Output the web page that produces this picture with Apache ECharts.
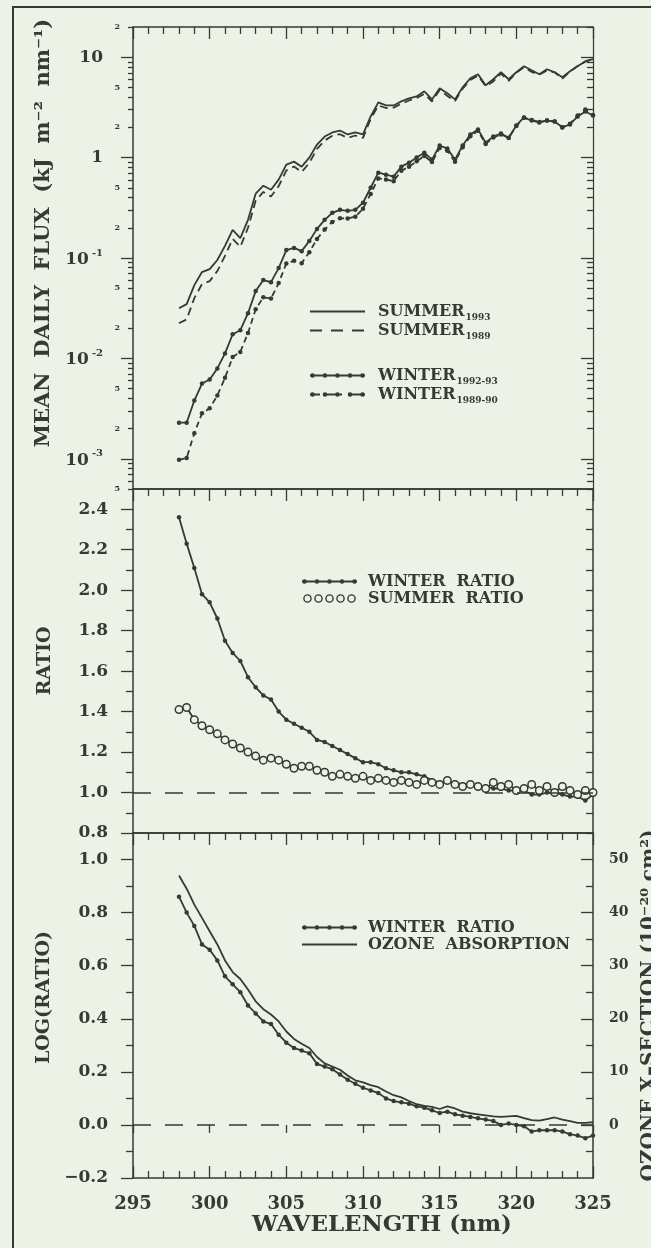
<!DOCTYPE html>
<html><head><meta charset="utf-8">
<script src="https://cdn.jsdelivr.net/npm/echarts@6/dist/echarts.min.js"></script>
<style>html,body{margin:0;padding:0;background:#edf2e6;}#c{width:651px;height:1248px;}</style>
</head><body><div id="c"></div>
<script>
// ---------------- data ----------------
const wavelength = [298, 298.5, 299, 299.5, 300, 300.5, 301, 301.5, 302, 302.5,
  303, 303.5, 304, 304.5, 305, 305.5, 306, 306.5, 307, 307.5,
  308, 308.5, 309, 309.5, 310, 310.5, 311, 311.5, 312, 312.5,
  313, 313.5, 314, 314.5, 315, 315.5, 316, 316.5, 317, 317.5,
  318, 318.5, 319, 319.5, 320, 320.5, 321, 321.5, 322, 322.5,
  323, 323.5, 324, 324.5, 325];

const summer1993 = [0.0316, 0.0347, 0.0537, 0.0724, 0.0776, 0.0955, 0.132, 0.191, 0.158, 0.240,
  0.437, 0.525, 0.479, 0.603, 0.851, 0.912, 0.813, 1.00, 1.35, 1.62,
  1.78, 1.86, 1.70, 1.78, 1.70, 2.57, 3.55, 3.31, 3.31, 3.63,
  3.89, 4.07, 4.57, 3.80, 4.90, 4.37, 3.80, 5.01, 6.17, 6.76,
  5.25, 6.03, 7.08, 6.03, 7.08, 8.13, 7.41, 6.76, 7.59, 7.08,
  6.31, 7.24, 8.13, 9.12, 9.55];

const summer1989 = [0.0224, 0.0245, 0.0398, 0.0550, 0.0589, 0.0741, 0.105, 0.155, 0.129, 0.200,
  0.372, 0.455, 0.409, 0.520, 0.746, 0.815, 0.719, 0.885, 1.22, 1.48,
  1.65, 1.71, 1.57, 1.66, 1.57, 2.43, 3.31, 3.12, 3.15, 3.43,
  3.71, 3.92, 4.31, 3.62, 4.71, 4.12, 3.66, 4.86, 5.93, 6.56,
  5.14, 5.74, 6.87, 5.80, 7.01, 7.96, 7.13, 6.70, 7.36, 7.08,
  6.12, 7.18, 8.20, 9.03, 9.55];

const winter1992_93 = [0.00229, 0.00229, 0.00380, 0.00562, 0.00617, 0.00794, 0.0112, 0.0174, 0.0191, 0.0282,
  0.0468, 0.0603, 0.0575, 0.0794, 0.120, 0.126, 0.117, 0.148, 0.195, 0.240,
  0.282, 0.302, 0.295, 0.302, 0.355, 0.501, 0.708, 0.676, 0.646, 0.813,
  0.891, 1.00, 1.12, 0.955, 1.32, 1.23, 0.955, 1.32, 1.70, 1.91,
  1.41, 1.62, 1.74, 1.58, 2.09, 2.51, 2.34, 2.24, 2.34, 2.29,
  2.00, 2.14, 2.57, 2.88, 2.63];

const winter1989_90 = [0.000977, 0.00102, 0.00180, 0.00284, 0.00318, 0.00427, 0.00641, 0.0103, 0.0116, 0.0179,
  0.0308, 0.0407, 0.0395, 0.0563, 0.0884, 0.0937, 0.0889, 0.114, 0.155, 0.192,
  0.229, 0.249, 0.248, 0.258, 0.309, 0.435, 0.621, 0.604, 0.583, 0.740,
  0.812, 0.918, 1.04, 0.902, 1.25, 1.17, 0.909, 1.27, 1.63, 1.85,
  1.37, 1.59, 1.70, 1.57, 2.07, 2.49, 2.37, 2.26, 2.34, 2.29,
  2.01, 2.18, 2.62, 3.01, 2.65];

const winterRatio = [2.36, 2.23, 2.11, 1.98, 1.94, 1.86, 1.75, 1.69, 1.65, 1.57,
  1.52, 1.48, 1.46, 1.40, 1.36, 1.34, 1.32, 1.30, 1.26, 1.25,
  1.23, 1.21, 1.19, 1.17, 1.15, 1.15, 1.14, 1.12, 1.11, 1.10,
  1.10, 1.09, 1.08, 1.06, 1.05, 1.05, 1.05, 1.04, 1.04, 1.03,
  1.03, 1.02, 1.02, 1.01, 1.01, 1.01, 0.99, 0.99, 1.00, 1.00,
  0.99, 0.98, 0.98, 0.96, 0.99];

const summerRatio = [1.41, 1.42, 1.36, 1.33, 1.31, 1.29, 1.26, 1.24, 1.22, 1.20,
  1.18, 1.16, 1.17, 1.16, 1.14, 1.12, 1.13, 1.13, 1.11, 1.10,
  1.08, 1.09, 1.08, 1.07, 1.08, 1.06, 1.07, 1.06, 1.05, 1.06,
  1.05, 1.04, 1.06, 1.05, 1.04, 1.06, 1.04, 1.03, 1.04, 1.03,
  1.02, 1.05, 1.03, 1.04, 1.01, 1.02, 1.04, 1.01, 1.03, 1.00,
  1.03, 1.01, 0.99, 1.01, 1.00];

const logWinterRatio = [0.86, 0.80, 0.75, 0.68, 0.66, 0.62, 0.56, 0.53, 0.50, 0.45,
  0.42, 0.39, 0.38, 0.34, 0.31, 0.29, 0.28, 0.27, 0.23, 0.22,
  0.21, 0.19, 0.17, 0.155, 0.14, 0.13, 0.12, 0.10, 0.09, 0.085,
  0.08, 0.07, 0.065, 0.055, 0.045, 0.05, 0.04, 0.035, 0.03, 0.025,
  0.02, 0.015, 0.0, 0.005, 0.0, -0.005, -0.025, -0.02, -0.02, -0.02,
  -0.025, -0.035, -0.04, -0.05, -0.04];

const ozoneXsection = [47.0, 44.5, 41.5, 39.0, 36.5, 34.0, 31.0, 28.8, 27.5, 25.5,
  23.3, 21.8, 20.8, 19.5, 17.6, 16.2, 15.3, 14.5, 12.8, 11.6,
  11.0, 10.4, 9.3, 8.4, 8.0, 7.5, 7.1, 6.3, 5.6, 5.2,
  4.5, 3.9, 3.6, 3.4, 3.0, 3.5, 3.1, 2.5, 2.2, 2.0,
  1.8, 1.6, 1.5, 1.6, 1.7, 1.3, 0.9, 0.8, 1.1, 1.4,
  1.0, 0.7, 0.4, 0.4, 0.5];

// tick values / labels
const wavelengthTicks = [295, 300, 305, 310, 315, 320, 325];
const fluxDecades = [0.001, 0.01, 0.1, 1, 10];
const fluxAxisMin = 0.0005, fluxAxisMax = 20;
const ratioTicks = [0.8, 1.0, 1.2, 1.4, 1.6, 1.8, 2.0, 2.2, 2.4];
const ratioMinorTicks = [0.9, 1.1, 1.3, 1.5, 1.7, 1.9, 2.1, 2.3];
const logRatioTicks = [-0.2, 0.0, 0.2, 0.4, 0.6, 0.8, 1.0];
const logRatioMinorTicks = [-0.1, 0.1, 0.3, 0.5, 0.7, 0.9];
const ozoneTicks = [0, 10, 20, 30, 40, 50];
const ozoneMinorTicks = [-5, 5, 15, 25, 35, 45];

// ---------------- chart ----------------
const INK = '#363934';
const BG = '#edf2e6';
const FONT = 'DejaVu Serif';
const L = 133, W = 460;

const lg = Math.log10;
const fluxMajor = fluxDecades.map(lg);
const fluxMinor = [];
const fluxMinorLabels = [];
[0.0001, 0.001, 0.01, 0.1, 1, 10].forEach(d => {
  for (let k = 2; k <= 9; k++) {
    const v = lg(k * d);
    if (v >= lg(fluxAxisMin) - 1e-9 && v <= lg(fluxAxisMax) + 1e-9) {
      fluxMinor.push(v);
      if (k === 2 || k === 5) fluxMinorLabels.push(v);
    }
  }
});

function fluxLabel(v) {
  const n = Math.round(v);
  if (Math.abs(v - n) < 1e-6) {
    if (n === 1) return '{maj|10}';
    if (n === 0) return '{maj|1}';
    return '{base|10}{sup|-' + Math.abs(n) + '}';
  }
  const m = Math.round(Math.pow(10, v - Math.floor(v)));
  return '{mn|' + m + '}';
}

const lineW = 1.5;
const tickStyle = {color: INK, width: 1.3};

function xAx(gi, pos, o) {
  return Object.assign({
    type: 'value', gridIndex: gi, position: pos, min: 295, max: 325, interval: 5,
    axisLine: {show: true, onZero: false, lineStyle: {color: INK, width: lineW}},
    axisTick: {show: true, inside: true, length: 12, lineStyle: tickStyle},
    minorTick: {show: true, splitNumber: 5, length: 7, lineStyle: tickStyle},
    axisLabel: {show: false},
    splitLine: {show: false}, minorSplitLine: {show: false}
  }, o || {});
}
function yAx(gi, pos, min, max, o) {
  return Object.assign({
    type: 'value', gridIndex: gi, position: pos, min: min, max: max,
    axisLine: {show: false, onZero: false, lineStyle: {color: INK, width: lineW}},
    axisTick: {show: false}, axisLabel: {show: false},
    splitLine: {show: false}, minorTick: {show: false}
  }, o || {});
}
const lblStyle = {color: INK, fontFamily: FONT, fontWeight: 'bold', fontSize: 17};
const nameStyle = {color: INK, fontFamily: FONT, fontWeight: 'bold', fontSize: 19};

const fMin = lg(fluxAxisMin), fMax = lg(fluxAxisMax);

const xAxis = [
  xAx(0, 'bottom', {axisTick: {show: false}, minorTick: {show: false}}),
  xAx(0, 'top'),
  xAx(1, 'bottom', {axisTick: {show: false}, minorTick: {show: false}}),
  xAx(1, 'top'),
  xAx(2, 'bottom', {
    axisLabel: Object.assign({show: true, margin: 17, customValues: wavelengthTicks}, lblStyle, {fontSize: 18}),
    name: 'WAVELENGTH (nm)', nameLocation: 'middle', nameGap: 36,
    nameTextStyle: Object.assign({}, nameStyle, {fontSize: 23, padding: [0, 0, 0, 38]})
  }),
  xAx(2, 'top'),
  xAx(2, 'bottom', {axisLine: {show: false},
    axisTick: {show: true, inside: false, length: 8, lineStyle: tickStyle},
    minorTick: {show: false}})
];

const yAxis = [
  // panel 1 (flux, plotted in log10 space)
  yAx(0, 'left', fMin, fMax, {
    axisLine: {show: true, onZero: false, lineStyle: {color: INK, width: lineW}},
    axisTick: {show: true, inside: false, length: 12, lineStyle: tickStyle, customValues: fluxMajor},
    axisLabel: {show: true, margin: 13, customValues: fluxMajor.concat(fluxMinorLabels),
      formatter: fluxLabel, color: INK, fontFamily: FONT, fontWeight: 'bold',
      rich: {
        maj: {fontSize: 17, fontFamily: FONT, fontWeight: 'bold', color: INK, padding: [0, 17, 0, 0]},
        base: {fontSize: 17, fontFamily: FONT, fontWeight: 'bold', color: INK, verticalAlign: 'bottom'},
        sup: {fontSize: 10, fontFamily: FONT, fontWeight: 'bold', color: INK, padding: [0, 17, 10, 3], verticalAlign: 'top'},
        mn: {fontSize: 8, fontFamily: FONT, fontWeight: 'bold', color: INK}
      }},
    name: 'MEAN  DAILY  FLUX  (kJ  m\u207B\u00B2  nm\u207B\u00B9)', nameLocation: 'middle', nameRotate: 90, nameGap: 76,
    nameTextStyle: Object.assign({}, nameStyle, {fontSize: 21, padding: [0, 0, 0, 50]})
  }),
  yAx(0, 'left', fMin, fMax, {
    axisTick: {show: true, inside: false, length: 5, lineStyle: tickStyle, customValues: fluxMinor}
  }),
  yAx(0, 'right', fMin, fMax, {
    axisLine: {show: true, onZero: false, lineStyle: {color: INK, width: 1.2}},
    axisTick: {show: true, inside: true, length: 12, lineStyle: tickStyle, customValues: fluxMajor}
  }),
  yAx(0, 'right', fMin, fMax, {
    axisTick: {show: true, inside: true, length: 6, lineStyle: tickStyle, customValues: fluxMinor}
  }),
  // panel 2 (ratio)
  yAx(1, 'left', 0.8, 2.5, {
    axisLine: {show: true, onZero: false, lineStyle: {color: INK, width: lineW}},
    axisTick: {show: true, inside: false, length: 12, lineStyle: tickStyle, customValues: ratioTicks},
    axisLabel: Object.assign({show: true, margin: 25, customValues: ratioTicks,
      formatter: v => v.toFixed(1)}, lblStyle),
    name: 'RATIO', nameLocation: 'middle', nameRotate: 90, nameGap: 78, nameTextStyle: nameStyle
  }),
  yAx(1, 'left', 0.8, 2.5, {
    axisTick: {show: true, inside: false, length: 7, lineStyle: tickStyle, customValues: ratioMinorTicks}
  }),
  yAx(1, 'right', 0.8, 2.5, {
    axisLine: {show: true, onZero: false, lineStyle: {color: INK, width: lineW}},
    axisTick: {show: true, inside: true, length: 7, lineStyle: tickStyle, customValues: ratioTicks}
  }),
  yAx(1, 'right', 0.8, 2.5, {
    axisTick: {show: true, inside: true, length: 7, lineStyle: tickStyle, customValues: ratioMinorTicks}
  }),
  // panel 3 (log ratio + ozone)
  yAx(2, 'left', -0.2, 1.1, {
    axisLine: {show: true, onZero: false, lineStyle: {color: INK, width: lineW}},
    axisTick: {show: true, inside: false, length: 12, lineStyle: tickStyle, customValues: logRatioTicks},
    axisLabel: Object.assign({show: true, margin: 25, customValues: logRatioTicks,
      formatter: v => (v < -1e-9 ? '\u2212' + Math.abs(v).toFixed(1) : Math.abs(v).toFixed(1))}, lblStyle),
    name: 'LOG(RATIO)', nameLocation: 'middle', nameRotate: 90, nameGap: 78,
    nameTextStyle: Object.assign({}, nameStyle, {padding: [0, 0, 0, 16]})
  }),
  yAx(2, 'left', -0.2, 1.1, {
    axisTick: {show: true, inside: false, length: 7, lineStyle: tickStyle, customValues: logRatioMinorTicks}
  }),
  yAx(2, 'right', -10, 55, {
    axisLine: {show: true, onZero: false, lineStyle: {color: INK, width: lineW}},
    axisTick: {show: true, inside: true, length: 12, lineStyle: tickStyle, customValues: ozoneTicks},
    axisLabel: Object.assign({show: true, margin: 16, customValues: ozoneTicks}, lblStyle, {fontSize: 14}),
    name: 'OZONE X\u2013SECTION (10\u207B\u00B2\u2070 cm\u00B2)', nameLocation: 'middle', nameRotate: 90, nameGap: 37,
    nameTextStyle: Object.assign({}, nameStyle, {fontSize: 20})
  }),
  yAx(2, 'right', -10, 55, {
    axisTick: {show: true, inside: true, length: 7, lineStyle: tickStyle, customValues: ozoneMinorTicks}
  })
];

const pairs = (arr, f) => wavelength.map((w, i) => [w, f ? f(arr[i]) : arr[i]]);
const baseLine = (name, xi, yi, data, o) => Object.assign({
  name: name, type: 'line', xAxisIndex: xi, yAxisIndex: yi, data: data,
  symbol: 'none', showSymbol: false, showAllSymbol: true, silent: true,
  lineStyle: {color: INK, width: 1.8}, itemStyle: {color: INK}, z: 3
}, o || {});
const dots = {symbol: 'circle', showSymbol: true, symbolSize: 4.5};

const series = [
  baseLine('SUMMER1993', 0, 0, pairs(summer1993, lg)),
  baseLine('SUMMER1989', 0, 0, pairs(summer1989, lg), {lineStyle: {color: INK, width: 1.8, type: [8, 5]}}),
  baseLine('WINTER1992-93', 0, 0, pairs(winter1992_93, lg), dots),
  baseLine('WINTER1989-90', 0, 0, pairs(winter1989_90, lg), Object.assign({}, dots,
    {lineStyle: {color: INK, width: 1.8, type: [6, 4]}})),
  baseLine('WINTER RATIO', 2, 4, pairs(winterRatio), Object.assign({}, dots, {
    markLine: {silent: true, symbol: ['none', 'none'], label: {show: false},
      lineStyle: {color: INK, width: 1.5, type: [18, 14]},
      data: [[{coord: [295, 1.0]}, {coord: [325, 1.0]}]]}
  })),
  baseLine('SUMMER RATIO', 2, 4, pairs(summerRatio), {symbol: 'circle', showSymbol: true, symbolSize: 7.5,
    itemStyle: {color: BG, borderColor: INK, borderWidth: 1.5}}),
  baseLine('WINTER RATIO (ln)', 4, 8, pairs(logWinterRatio), Object.assign({}, dots, {
    markLine: {silent: true, symbol: ['none', 'none'], label: {show: false},
      lineStyle: {color: INK, width: 1.5, type: [18, 14]},
      data: [[{coord: [295, 0]}, {coord: [325, 0]}]]}
  })),
  baseLine('OZONE ABSORPTION', 4, 10, pairs(ozoneXsection))
];

// ---- legend icons (line samples drawn as paths, 55 x 12 box) ----
const CY = 6;
const corners = 'M0,0h0.01v0.01h-0.01Z M54.99,11.99h0.01v0.01h-0.01Z ';
const seg = (a, b) => 'M' + a + ',' + (CY - 0.9) + 'H' + b + 'V' + (CY + 0.9) + 'H' + a + 'Z ';
const dot = (cx, r) => 'M' + (cx - r) + ',' + CY + 'a' + r + ',' + r + ' 0 1,1 ' + (2 * r) + ',0a' + r + ',' + r + ' 0 1,1 ' + (-2 * r) + ',0Z ';
const hole = (cx, r) => 'M' + (cx - r) + ',' + CY + 'a' + r + ',' + r + ' 0 1,0 ' + (2 * r) + ',0a' + r + ',' + r + ' 0 1,0 ' + (-2 * r) + ',0Z ';
const icons = {
  solid: corners + seg(0, 55),
  dashed: corners + seg(0, 12) + seg(21, 33) + seg(42, 54),
  solidDots: corners + seg(0, 55) + [2.5, 15, 27.5, 40, 52.5].map(c => dot(c, 2.3)).join(''),
  dashedDots: corners + seg(0, 10) + seg(16, 32) + seg(38, 55) + [2.5, 15, 27.5, 40, 52.5].map(c => dot(c, 2.3)).join(''),
  rings: corners + [5.5, 16.5, 27.5, 38.5, 49.5].map(c => dot(c, 4.3) + hole(c, 2.9)).join('')
};
const legendItem = (name, icon) => ({name: name, icon: 'path://' + icons[icon],
  itemStyle: {color: INK, borderWidth: 0}});

const legendText = {
  'SUMMER1993': '{t|SUMMER}{s|1993}', 'SUMMER1989': '{t|SUMMER}{s|1989}',
  'WINTER1992-93': '{t|WINTER}{s|1992-93}', 'WINTER1989-90': '{t|WINTER}{s|1989-90}',
  'WINTER RATIO': '{t|WINTER  RATIO}', 'SUMMER RATIO': '{t|SUMMER  RATIO}',
  'WINTER RATIO (ln)': '{t|WINTER  RATIO}', 'OZONE ABSORPTION': '{t|OZONE  ABSORPTION}'
};
const legendRich = {
  t: {fontFamily: FONT, fontWeight: 'bold', fontSize: 16, color: INK, lineHeight: 17, verticalAlign: 'bottom'},
  s: {fontFamily: FONT, fontWeight: 'bold', fontSize: 9, color: INK, lineHeight: 10, verticalAlign: 'bottom', padding: [0, 0, -2, 1]}
};
const mkLegend = (left, top, items, pad) => ({
  left: left, top: top, orient: 'vertical', itemWidth: 55, itemHeight: 12, itemGap: 1,
  selectedMode: false, data: items, formatter: n => legendText[n],
  textStyle: {color: INK, fontFamily: FONT, fontWeight: 'bold', fontSize: 16, padding: [0, 0, 0, pad], rich: legendRich}
});

const gridBase = {outerBoundsMode: 'none', containLabel: false};
const option = {
  backgroundColor: BG,
  animation: false,
  grid: [
    Object.assign({left: L, top: 27, width: W, height: 462}, gridBase),
    Object.assign({left: L, top: 489, width: W, height: 344}, gridBase),
    Object.assign({left: L, top: 833, width: W, height: 345}, gridBase)
  ],
  xAxis: xAxis,
  yAxis: yAxis,
  legend: [
    mkLegend(305, 299, [legendItem('SUMMER1993', 'solid'), legendItem('SUMMER1989', 'dashed')], 8),
    mkLegend(305, 363, [legendItem('WINTER1992-93', 'solidDots'), legendItem('WINTER1989-90', 'dashedDots')], 8),
    mkLegend(297, 569, [legendItem('WINTER RATIO', 'solidDots'), legendItem('SUMMER RATIO', 'rings')], 6),
    mkLegend(297, 915, [legendItem('WINTER RATIO (ln)', 'solidDots'), legendItem('OZONE ABSORPTION', 'solid')], 6)
  ],
  graphic: [{type: 'rect', silent: true, z: 0,
    shape: {x: 13, y: 7, width: 700, height: 1300},
    style: {fill: 'none', stroke: INK, lineWidth: 2}}],
  series: series
};

const chart = echarts.init(document.getElementById('c'), null, {renderer: 'canvas'});
chart.setOption(option);
</script>
</body></html>
